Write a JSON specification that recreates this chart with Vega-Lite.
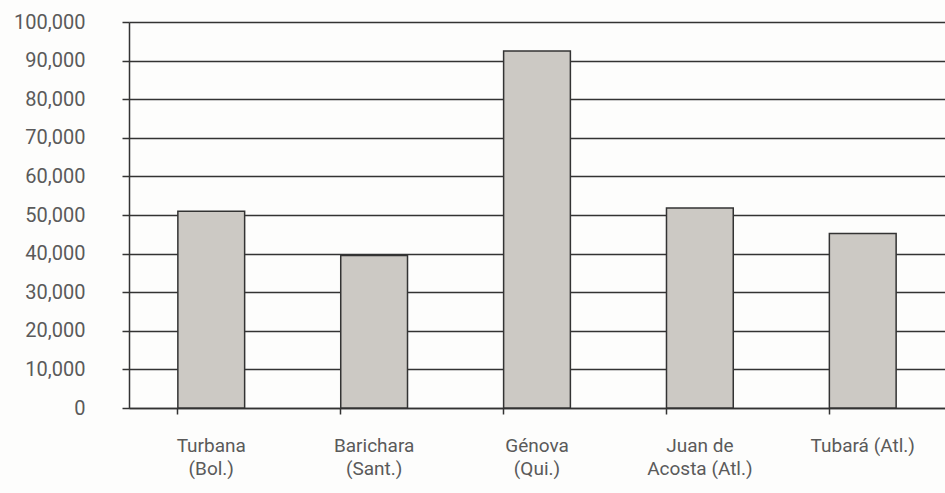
{
  "$schema": "https://vega.github.io/schema/vega-lite/v6.json",
  "autosize": "none",
  "width": 816,
  "height": 386,
  "padding": {"left": 129, "top": 22, "right": 0, "bottom": 85},
  "background": "#fdfdfc",
  "data": {
    "values": [
      {"lugar": "Turbana|(Bol.)", "valor": 51000},
      {"lugar": "Barichara|(Sant.)", "valor": 39500},
      {"lugar": "Génova|(Qui.)", "valor": 92500},
      {"lugar": "Juan de|Acosta (Atl.)", "valor": 51800},
      {"lugar": "Tubará (Atl.)", "valor": 45200}
    ]
  },
  "config": {
    "view": {"stroke": null},
    "font": "Roboto"
  },
  "mark": {"type": "bar", "fill": "#ccc9c4", "stroke": "#333333", "strokeWidth": 1.5},
  "encoding": {
    "x": {
      "field": "lugar",
      "type": "nominal",
      "sort": null,
      "scale": {"paddingInner": 0.59, "paddingOuter": 0.3},
      "axis": {
        "title": null,
        "labelAngle": 0,
        "labelExpr": "split(datum.label, '|')",
        "labelFont": "Roboto",
        "labelFontSize": 19,
        "labelColor": "#5a5a5a",
        "labelPadding": 22,
        "labelLineHeight": 23,
        "labelBaseline": "top",
        "bandPosition": 0,
        "tickSize": 6,
        "tickColor": "#333333",
        "tickWidth": 1.5,
        "domainColor": "#333333",
        "domainWidth": 1.5,
        "grid": false
      }
    },
    "y": {
      "field": "valor",
      "type": "quantitative",
      "scale": {"domain": [0, 100000], "nice": false},
      "axis": {
        "title": null,
        "values": [0, 10000, 20000, 30000, 40000, 50000, 60000, 70000, 80000, 90000, 100000],
        "format": ",d",
        "labelFont": "Roboto",
        "labelFontSize": 20,
        "labelColor": "#5a5a5a",
        "labelPadding": 37,
        "tickSize": 7,
        "tickColor": "#333333",
        "tickWidth": 1.5,
        "domainColor": "#333333",
        "domainWidth": 1.5,
        "grid": true,
        "gridColor": "#333333",
        "gridWidth": 1.5,
        "gridOpacity": 1
      }
    }
  }
}
